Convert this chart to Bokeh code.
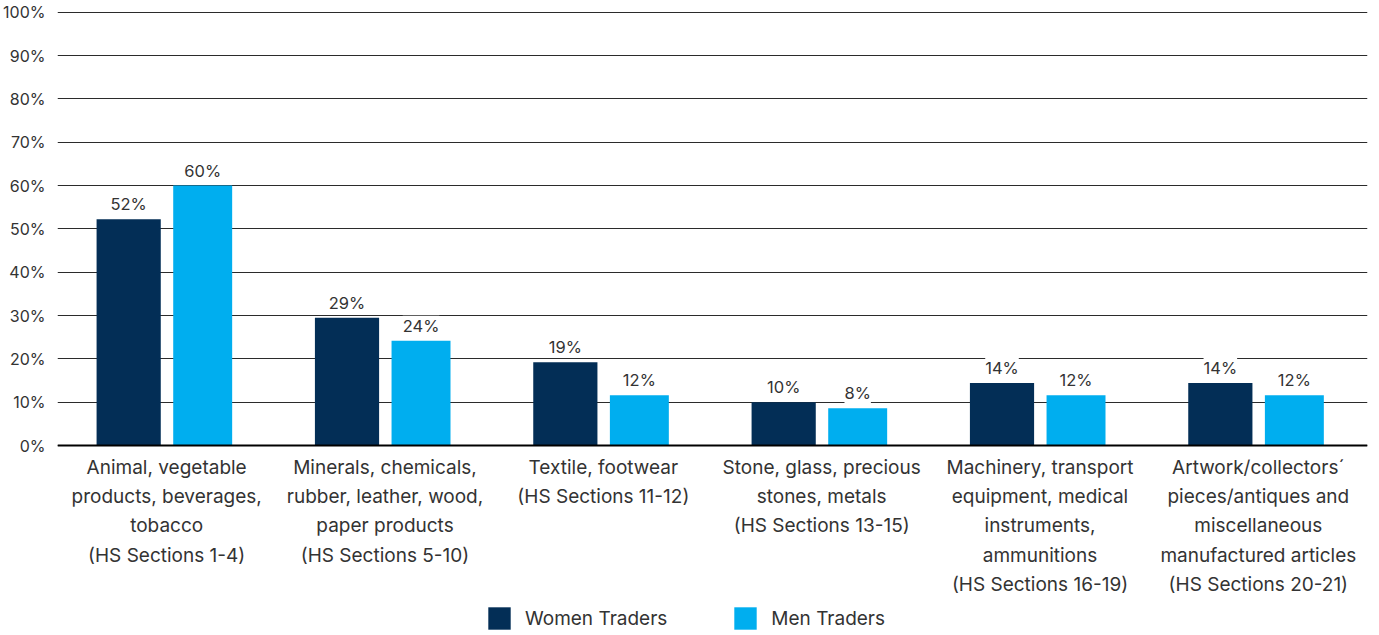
from bokeh.plotting import figure
from bokeh.models import FactorRange, Range1d, ColumnDataSource, Legend, LegendItem, FixedTicker, Span
from bokeh.transform import dodge
from bokeh.core.properties import value
from bokeh.embed import file_html
from bokeh.resources import INLINE

categories = [
    "Animal, vegetable\nproducts, beverages,\ntobacco\n(HS Sections 1-4)",
    "Minerals, chemicals,\nrubber, leather, wood,\npaper products\n(HS Sections 5-10)",
    "Textile, footwear\n(HS Sections 11-12)",
    "Stone, glass, precious\nstones, metals\n(HS Sections 13-15)",
    "Machinery, transport\nequipment, medical\ninstruments,\nammunitions\n(HS Sections 16-19)",
    "Artwork/collectors\u00b4\npieces/antiques and\nmiscellaneous\nmanufactured articles\n(HS Sections 20-21)",
]
women = [52.2, 29.5, 19.2, 10.0, 14.4, 14.4]
men = [60.0, 24.2, 11.6, 8.6, 11.6, 11.6]
women_labels = ["52%", "29%", "19%", "10%", "14%", "14%"]
men_labels = ["60%", "24%", "12%", "8%", "12%", "12%"]
y_ticks = [0, 10, 20, 30, 40, 50, 60, 70, 80, 90, 100]

FONT = "Inter"
TXT = "#333333"
NAVY = "#032E56"
CYAN = "#00AEEF"

src = ColumnDataSource(dict(cat=categories, women=women, men=men,
                            wl=women_labels, ml=men_labels,
                            base=[0] * len(categories)))

# frame extends below 0% to hold the category labels and the legend
p = figure(x_range=FactorRange(*categories, range_padding=0),
           y_range=Range1d(-43.15, 100.16),
           frame_width=1310, frame_height=621,
           output_backend="svg", toolbar_location=None,
           min_border_top=11, min_border_right=4, min_border_bottom=0, min_border_left=0)
p.outline_line_color = None
p.background_fill_color = "white"

rw = p.vbar(x=dodge("cat", -0.174, range=p.x_range), top="women", bottom="base", width=0.294,
            source=src, fill_color=NAVY, line_color=None)
rm = p.vbar(x=dodge("cat", 0.165, range=p.x_range), top="men", bottom="base", width=0.27,
            source=src, fill_color=CYAN, line_color=None)

p.text(x=dodge("cat", -0.174, range=p.x_range), y="women", text="wl", source=src,
       text_align="center", text_baseline="bottom", y_offset=-5,
       text_font=value(FONT), text_font_size="16.5px", text_color=TXT,
       background_fill_color="white")
p.text(x=dodge("cat", 0.165, range=p.x_range), y="men", text="ml", source=src,
       text_align="center", text_baseline="bottom", y_offset=-5,
       text_font=value(FONT), text_font_size="16.5px", text_color=TXT,
       background_fill_color="white")

# category labels under the baseline
p.text(x="cat", y="base", text="cat", source=src,
       text_align="center", text_baseline="top", y_offset=10,
       text_font=value(FONT), text_font_size="19px", text_color=TXT,
       text_line_height=1.28)

# grid
p.xgrid.grid_line_color = None
p.ygrid.ticker = FixedTicker(ticks=y_ticks)
p.ygrid.grid_line_color = "#2b2b2b"
p.ygrid.grid_line_width = 1
p.add_layout(Span(location=0, dimension="width", line_color="#000000", line_width=2))

# y axis
p.yaxis.ticker = FixedTicker(ticks=y_ticks)
p.yaxis.major_label_overrides = {t: f"{t}%" for t in y_ticks}
p.yaxis.axis_line_color = None
p.yaxis.major_tick_line_color = None
p.yaxis.minor_tick_line_color = None
p.yaxis.major_tick_out = 0
p.yaxis.major_tick_in = 0
p.yaxis.major_label_standoff = 12
p.yaxis.major_label_text_font = FONT
p.yaxis.major_label_text_font_size = "16px"
p.yaxis.major_label_text_color = TXT

p.xaxis.visible = False

legend = Legend(items=[LegendItem(label="Women Traders", renderers=[rw]),
                       LegendItem(label="Men Traders", renderers=[rm])],
                orientation="horizontal", location=(428, 0),
                glyph_width=28, glyph_height=28, label_standoff=12, spacing=64,
                label_text_font=FONT, label_text_font_size="19px", label_text_color=TXT,
                border_line_color=None, background_fill_alpha=0, padding=0, margin=0)
p.add_layout(legend, "center")

open("out.html", "w").write(file_html(p, INLINE))
